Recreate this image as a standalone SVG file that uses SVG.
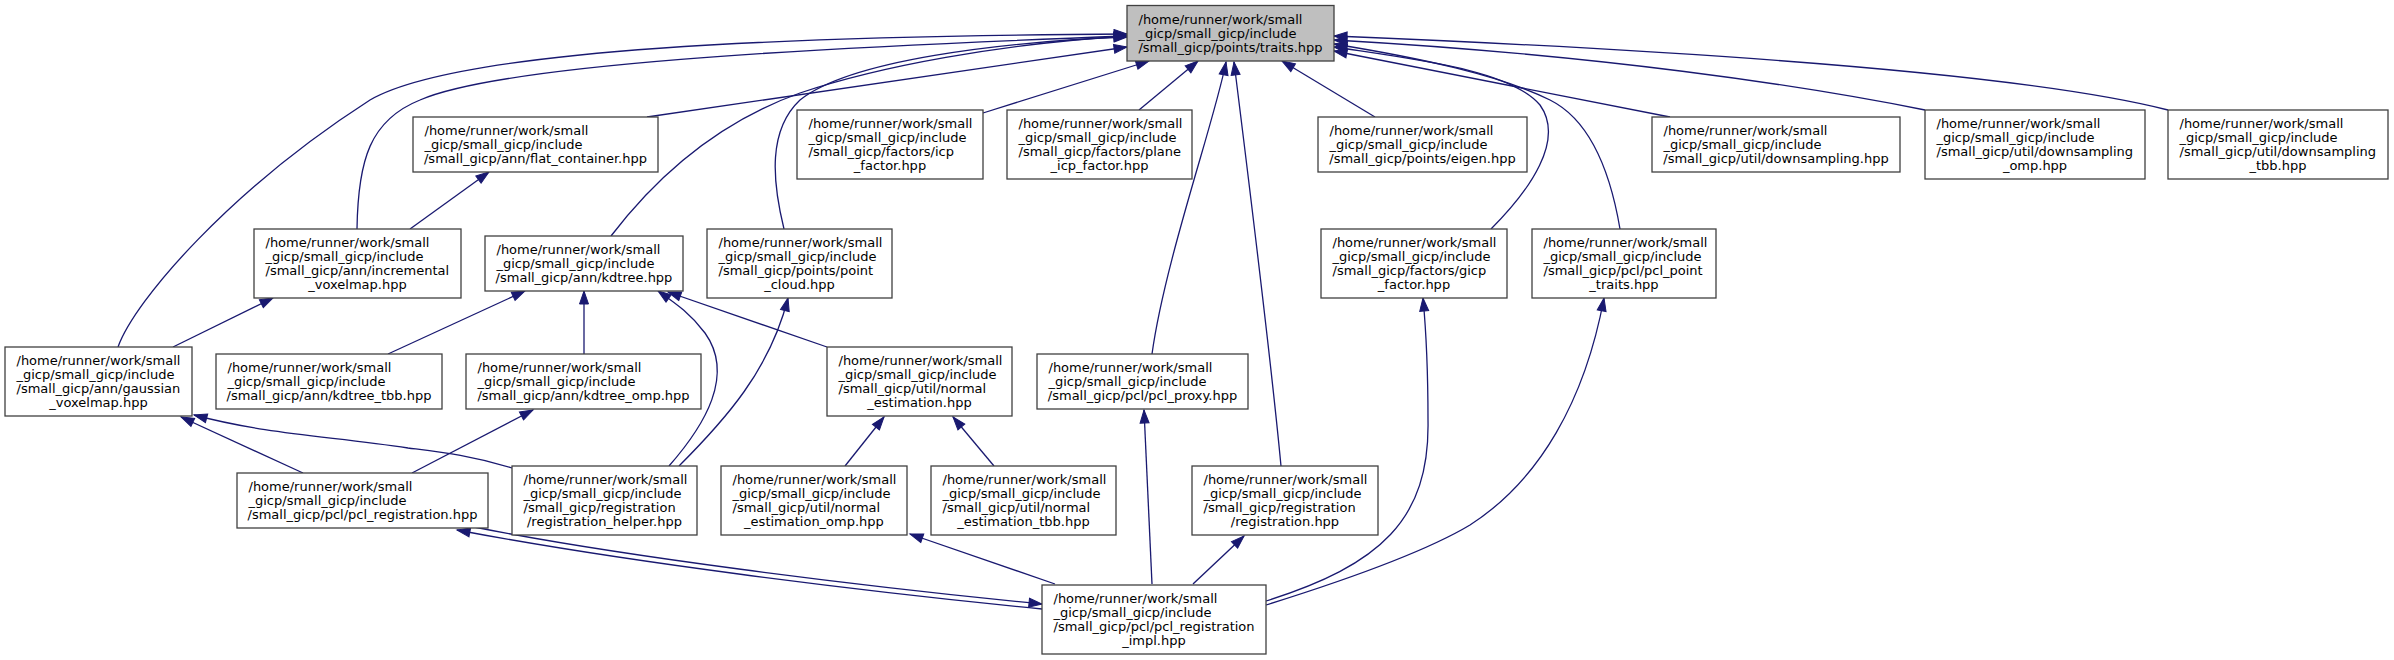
<svg xmlns="http://www.w3.org/2000/svg" width="2394" height="660" viewBox="0 0 2394 660">
<style>
.node rect{fill:#ffffff;stroke:#404040;stroke-width:1.3}
.node.main rect{fill:#bfbfbf}
.node text{font-family:"DejaVu Sans","Liberation Sans",sans-serif;font-size:13px;fill:#000}
.c{text-anchor:middle}
.edges path{fill:none;stroke:#191970;stroke-width:1.3;marker-end:url(#arr)}
</style>
<defs>
<marker id="arr" markerUnits="userSpaceOnUse" markerWidth="14" markerHeight="10" refX="13" refY="4.5" orient="auto" overflow="visible">
<path d="M0,0 L13,4.5 L0,9 Z" fill="#191970" stroke="#191970" stroke-width="1"/>
</marker>
</defs>
<rect width="2394" height="660" fill="#ffffff"/>
<g class="edges">
<path d="M118,347 C135,300 230,190 370,100 C460,48 800,36 1127,34"/>
<path d="M357,229 C358,160 370,120 420,100 C500,65 800,48 1127,36"/>
<path d="M647,117 L1127,47"/>
<path d="M611,236 C650,185 710,125 800,93 C880,66 1000,44 1127,36"/>
<path d="M784,229 C772,180 768,130 800,100 C850,60 1000,42 1127,37"/>
<path d="M983,113 L1149,61"/>
<path d="M1139,110 L1198,61"/>
<path d="M1281,466 C1270,350 1245,150 1234,62"/>
<path d="M1152,354 C1165,260 1215,120 1226,62"/>
<path d="M1375,117 L1282,61"/>
<path d="M1491,229 C1530,190 1565,140 1540,105 C1510,70 1420,60 1334,47"/>
<path d="M1620,229 C1610,170 1590,120 1550,100 C1500,75 1420,58 1334,44"/>
<path d="M1670,117 L1334,51"/>
<path d="M1925,110 C1800,85 1600,55 1334,40"/>
<path d="M2168,110 C2050,80 1800,55 1334,36"/>
<path d="M410,229 L489,172"/>
<path d="M173,347 L273,298"/>
<path d="M388,354 L525,291"/>
<path d="M584,354 L584,291"/>
<path d="M669,466 C705,425 735,375 705,333 C690,313 675,303 658,291"/>
<path d="M827,347 L668,292"/>
<path d="M412,473 L533,410"/>
<path d="M679,466 C725,420 770,370 788,298"/>
<path d="M303,473 L181,417"/>
<path d="M512,468 C470,455 440,452 408,448 C330,436 270,435 194,415"/>
<path d="M845,466 L884,417"/>
<path d="M994,466 L953,417"/>
<path d="M474,527 C620,556 850,585 1042,604"/>
<path d="M1042,609 C850,590 620,561 457,530"/>
<path d="M1055,584 L910,534"/>
<path d="M1152,584 L1144,410"/>
<path d="M1193,584 L1244,536"/>
<path d="M1266,601 C1380,565 1430,520 1428,420 C1428,370 1426,330 1423,298"/>
<path d="M1266,605 C1330,585 1420,555 1470,525 C1540,480 1585,400 1604,298"/>
</g>
<g id="traits" class="node main"><rect x="1127" y="5.5" width="207" height="55.5"/><text><tspan x="1138.5" y="23.5">/home/runner/work/small</tspan><tspan x="1138.5" y="37.7">_gicp/small_gicp/include</tspan><tspan class="c" x="1230.5" y="51.9">/small_gicp/points/traits.hpp</tspan></text></g>
<g id="flat_container" class="node"><rect x="413" y="117" width="245" height="55"/><text><tspan x="424.5" y="134.8">/home/runner/work/small</tspan><tspan x="424.5" y="149">_gicp/small_gicp/include</tspan><tspan class="c" x="535.5" y="163.2">/small_gicp/ann/flat_container.hpp</tspan></text></g>
<g id="icp_factor" class="node"><rect x="797" y="110" width="186" height="69"/><text><tspan x="808.5" y="127.7">/home/runner/work/small</tspan><tspan x="808.5" y="141.9">_gicp/small_gicp/include</tspan><tspan x="808.5" y="156.1">/small_gicp/factors/icp</tspan><tspan class="c" x="890" y="170.3">_factor.hpp</tspan></text></g>
<g id="plane_icp_factor" class="node"><rect x="1007" y="110" width="185" height="69"/><text><tspan x="1018.5" y="127.7">/home/runner/work/small</tspan><tspan x="1018.5" y="141.9">_gicp/small_gicp/include</tspan><tspan x="1018.5" y="156.1">/small_gicp/factors/plane</tspan><tspan class="c" x="1099.5" y="170.3">_icp_factor.hpp</tspan></text></g>
<g id="eigen" class="node"><rect x="1318" y="117" width="209" height="55"/><text><tspan x="1329.5" y="134.8">/home/runner/work/small</tspan><tspan x="1329.5" y="149">_gicp/small_gicp/include</tspan><tspan class="c" x="1422.5" y="163.2">/small_gicp/points/eigen.hpp</tspan></text></g>
<g id="downsampling" class="node"><rect x="1652" y="117" width="248" height="55"/><text><tspan x="1663.5" y="134.8">/home/runner/work/small</tspan><tspan x="1663.5" y="149">_gicp/small_gicp/include</tspan><tspan class="c" x="1776" y="163.2">/small_gicp/util/downsampling.hpp</tspan></text></g>
<g id="downsampling_omp" class="node"><rect x="1925" y="110" width="220" height="69"/><text><tspan x="1936.5" y="127.7">/home/runner/work/small</tspan><tspan x="1936.5" y="141.9">_gicp/small_gicp/include</tspan><tspan x="1936.5" y="156.1">/small_gicp/util/downsampling</tspan><tspan class="c" x="2035" y="170.3">_omp.hpp</tspan></text></g>
<g id="downsampling_tbb" class="node"><rect x="2168" y="110" width="220" height="69"/><text><tspan x="2179.5" y="127.7">/home/runner/work/small</tspan><tspan x="2179.5" y="141.9">_gicp/small_gicp/include</tspan><tspan x="2179.5" y="156.1">/small_gicp/util/downsampling</tspan><tspan class="c" x="2278" y="170.3">_tbb.hpp</tspan></text></g>
<g id="incremental_voxelmap" class="node"><rect x="254" y="229" width="207" height="69"/><text><tspan x="265.5" y="246.7">/home/runner/work/small</tspan><tspan x="265.5" y="260.9">_gicp/small_gicp/include</tspan><tspan x="265.5" y="275.1">/small_gicp/ann/incremental</tspan><tspan class="c" x="357.5" y="289.3">_voxelmap.hpp</tspan></text></g>
<g id="kdtree" class="node"><rect x="485" y="236" width="198" height="55"/><text><tspan x="496.5" y="253.8">/home/runner/work/small</tspan><tspan x="496.5" y="268">_gicp/small_gicp/include</tspan><tspan class="c" x="584" y="282.2">/small_gicp/ann/kdtree.hpp</tspan></text></g>
<g id="point_cloud" class="node"><rect x="707" y="229" width="185" height="69"/><text><tspan x="718.5" y="246.7">/home/runner/work/small</tspan><tspan x="718.5" y="260.9">_gicp/small_gicp/include</tspan><tspan x="718.5" y="275.1">/small_gicp/points/point</tspan><tspan class="c" x="799.5" y="289.3">_cloud.hpp</tspan></text></g>
<g id="gicp_factor" class="node"><rect x="1321" y="229" width="186" height="69"/><text><tspan x="1332.5" y="246.7">/home/runner/work/small</tspan><tspan x="1332.5" y="260.9">_gicp/small_gicp/include</tspan><tspan x="1332.5" y="275.1">/small_gicp/factors/gicp</tspan><tspan class="c" x="1414" y="289.3">_factor.hpp</tspan></text></g>
<g id="pcl_point_traits" class="node"><rect x="1532" y="229" width="184" height="69"/><text><tspan x="1543.5" y="246.7">/home/runner/work/small</tspan><tspan x="1543.5" y="260.9">_gicp/small_gicp/include</tspan><tspan x="1543.5" y="275.1">/small_gicp/pcl/pcl_point</tspan><tspan class="c" x="1624" y="289.3">_traits.hpp</tspan></text></g>
<g id="gaussian_voxelmap" class="node"><rect x="5" y="347" width="187" height="69"/><text><tspan x="16.5" y="364.7">/home/runner/work/small</tspan><tspan x="16.5" y="378.9">_gicp/small_gicp/include</tspan><tspan x="16.5" y="393.1">/small_gicp/ann/gaussian</tspan><tspan class="c" x="98.5" y="407.3">_voxelmap.hpp</tspan></text></g>
<g id="kdtree_tbb" class="node"><rect x="216" y="354" width="226" height="55"/><text><tspan x="227.5" y="371.8">/home/runner/work/small</tspan><tspan x="227.5" y="386">_gicp/small_gicp/include</tspan><tspan class="c" x="329" y="400.2">/small_gicp/ann/kdtree_tbb.hpp</tspan></text></g>
<g id="kdtree_omp" class="node"><rect x="466" y="354" width="235" height="55"/><text><tspan x="477.5" y="371.8">/home/runner/work/small</tspan><tspan x="477.5" y="386">_gicp/small_gicp/include</tspan><tspan class="c" x="583.5" y="400.2">/small_gicp/ann/kdtree_omp.hpp</tspan></text></g>
<g id="normal_estimation" class="node"><rect x="827" y="347" width="185" height="69"/><text><tspan x="838.5" y="364.7">/home/runner/work/small</tspan><tspan x="838.5" y="378.9">_gicp/small_gicp/include</tspan><tspan x="838.5" y="393.1">/small_gicp/util/normal</tspan><tspan class="c" x="919.5" y="407.3">_estimation.hpp</tspan></text></g>
<g id="pcl_proxy" class="node"><rect x="1037" y="354" width="211" height="55"/><text><tspan x="1048.5" y="371.8">/home/runner/work/small</tspan><tspan x="1048.5" y="386">_gicp/small_gicp/include</tspan><tspan class="c" x="1142.5" y="400.2">/small_gicp/pcl/pcl_proxy.hpp</tspan></text></g>
<g id="pcl_registration" class="node"><rect x="237" y="473" width="251" height="55"/><text><tspan x="248.5" y="490.8">/home/runner/work/small</tspan><tspan x="248.5" y="505">_gicp/small_gicp/include</tspan><tspan class="c" x="362.5" y="519.2">/small_gicp/pcl/pcl_registration.hpp</tspan></text></g>
<g id="registration_helper" class="node"><rect x="512" y="466" width="185" height="69"/><text><tspan x="523.5" y="483.7">/home/runner/work/small</tspan><tspan x="523.5" y="497.9">_gicp/small_gicp/include</tspan><tspan x="523.5" y="512.1">/small_gicp/registration</tspan><tspan class="c" x="604.5" y="526.3">/registration_helper.hpp</tspan></text></g>
<g id="normal_estimation_omp" class="node"><rect x="721" y="466" width="186" height="69"/><text><tspan x="732.5" y="483.7">/home/runner/work/small</tspan><tspan x="732.5" y="497.9">_gicp/small_gicp/include</tspan><tspan x="732.5" y="512.1">/small_gicp/util/normal</tspan><tspan class="c" x="814" y="526.3">_estimation_omp.hpp</tspan></text></g>
<g id="normal_estimation_tbb" class="node"><rect x="931" y="466" width="185" height="69"/><text><tspan x="942.5" y="483.7">/home/runner/work/small</tspan><tspan x="942.5" y="497.9">_gicp/small_gicp/include</tspan><tspan x="942.5" y="512.1">/small_gicp/util/normal</tspan><tspan class="c" x="1023.5" y="526.3">_estimation_tbb.hpp</tspan></text></g>
<g id="registration" class="node"><rect x="1192" y="466" width="186" height="69"/><text><tspan x="1203.5" y="483.7">/home/runner/work/small</tspan><tspan x="1203.5" y="497.9">_gicp/small_gicp/include</tspan><tspan x="1203.5" y="512.1">/small_gicp/registration</tspan><tspan class="c" x="1285" y="526.3">/registration.hpp</tspan></text></g>
<g id="pcl_registration_impl" class="node"><rect x="1042" y="585" width="224" height="69"/><text><tspan x="1053.5" y="602.7">/home/runner/work/small</tspan><tspan x="1053.5" y="616.9">_gicp/small_gicp/include</tspan><tspan x="1053.5" y="631.1">/small_gicp/pcl/pcl_registration</tspan><tspan class="c" x="1154" y="645.3">_impl.hpp</tspan></text></g>
</svg>
